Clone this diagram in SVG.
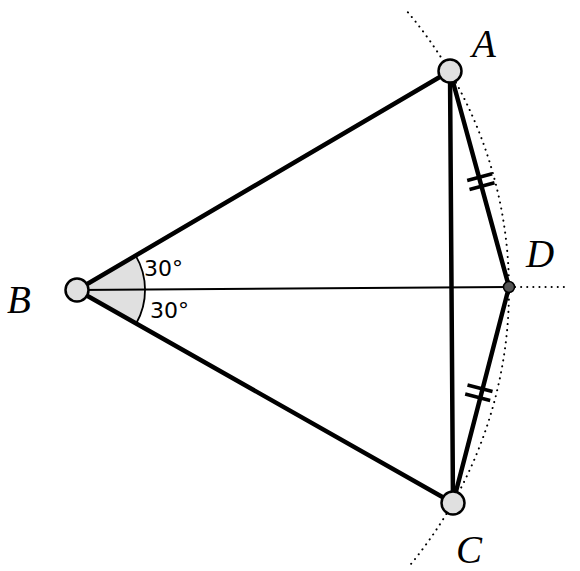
<svg xmlns="http://www.w3.org/2000/svg" width="580" height="571" viewBox="0 0 580 571">
<style>
.thick{stroke:#000;stroke-width:4.5;fill:none;stroke-linecap:round}
.thin{stroke:#000;stroke-width:2;fill:none}
.dot{stroke:#000;stroke-width:2;fill:none;stroke-dasharray:0.1 6;stroke-linecap:round}
.pt{fill:#e0e0e0;stroke:#000;stroke-width:2.5}
.lbl{font-family:"Liberation Serif",serif;font-style:italic;font-size:39px;fill:#000}
.ang{font-family:"DejaVu Sans",sans-serif;font-size:22px;fill:#000}
.tick{stroke:#000;stroke-width:3.5}
</style>
<g id="guides">
<path class="dot" d="M407.9,12.3 A432,432 0 0 1 407.9,567.7"/>
<line class="dot" x1="515" y1="287" x2="566" y2="287"/>
</g>
<g id="angle">
<path d="M77,290 L135.7,255.6 A68,68 0 0 1 136.2,323.5 Z" fill="#e0e0e0" stroke="none"/>
<path d="M135.7,255.6 A68,68 0 0 1 136.2,323.5" fill="none" stroke="#000" stroke-width="1.8"/>
<text class="ang" x="144" y="276">30°</text>
<text class="ang" x="150" y="318">30°</text>
</g>
<g id="connectors">
<line class="thin" x1="77" y1="290" x2="509" y2="287"/>
<line class="thick" x1="77" y1="290" x2="450" y2="71"/>
<line class="thick" x1="77" y1="290" x2="453" y2="503"/>
<line class="thick" x1="450" y1="71" x2="453" y2="503"/>
<line class="thick" x1="450" y1="71" x2="509" y2="287"/>
<line class="thick" x1="509" y1="287" x2="453" y2="503"/>
<g id="ticks">
<line class="tick" x1="467.2" y1="180.5" x2="492.2" y2="173.7"/>
<line class="tick" x1="469.5" y1="189.5" x2="494.5" y2="182.7"/>
<line class="tick" x1="467.5" y1="385" x2="492.5" y2="391.5"/>
<line class="tick" x1="465.2" y1="394" x2="490.2" y2="400.5"/>
</g>
</g>
<g id="nodeA"><circle class="pt" cx="450" cy="71" r="11.5"/><text class="lbl" x="472" y="57">A</text></g>
<g id="nodeB"><circle class="pt" cx="77" cy="290" r="11.5"/><text class="lbl" x="7" y="313">B</text></g>
<g id="nodeC"><circle class="pt" cx="453" cy="503" r="11.5"/><text class="lbl" x="456" y="563">C</text></g>
<g id="nodeD"><circle cx="509" cy="287" r="5.5" fill="#555" stroke="#000" stroke-width="1.5"/><text class="lbl" x="526" y="267">D</text></g>
</svg>
